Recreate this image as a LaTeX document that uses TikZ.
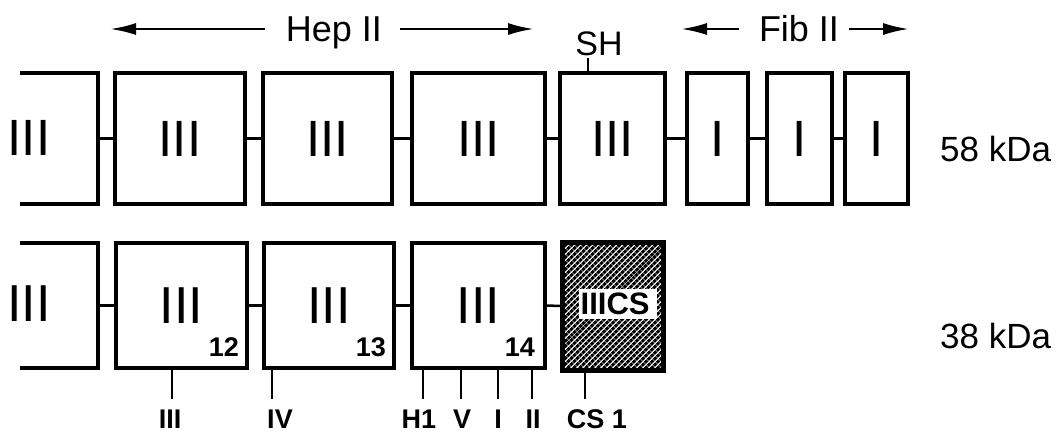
\documentclass[tikz,border=0pt]{standalone}
\usepackage{fontspec}
\setmainfont{Liberation Sans}
\usetikzlibrary{arrows.meta,patterns.meta}
\begin{document}
\begin{tikzpicture}[x=1pt,y=-1pt,
  box/.style={draw,line width=4pt,inner sep=0pt,minimum height=131pt,font=\fontsize{51}{51}\selectfont},
  bbox/.style={draw,line width=4pt,inner sep=0pt,minimum height=125pt,font=\fontsize{52}{52}\selectfont},
  conn/.style={line width=2.5pt},
  tickline/.style={line width=2.5pt},
  arr/.style={line width=2.5pt,-{Latex[length=26pt,width=12pt]}},
  num/.style={font=\bfseries\fontsize{27}{27}\selectfont,anchor=base east,inner sep=0pt},
  lab/.style={font=\bfseries\fontsize{27}{27}\selectfont,anchor=base,inner sep=0pt},
  big/.style={font=\fontsize{36}{36}\selectfont,anchor=base,inner sep=0pt},
  kda/.style={font=\fontsize{35}{35}\selectfont,anchor=base west,inner sep=0pt},
]
\fill[white] (0,0) rectangle (1057,432);
\useasboundingbox (0,0) rectangle (1057,432);

% partial boxes on the left
\begin{scope}
\clip (20,0) rectangle (1057,432);
\node[box,minimum width=131pt] (p1) at (32.5,138.5) {};
\node[bbox,minimum width=131pt] (q1) at (32.5,305.5) {};
\end{scope}
\node[inner sep=0pt,font=\fontsize{51}{51}\selectfont] (p1l) at (29,138) {III};
\node[inner sep=0pt,font=\fontsize{52}{52}\selectfont] (q1l) at (29,304) {III};

% top row (58 kDa)
\node[box,minimum width=130pt] (b1) at (180,138.5) {III};
\node[box,minimum width=129pt] (b2) at (327.5,138.5) {III};
\node[box,minimum width=133pt] (b3) at (478.5,138.5) {III};
\node[box,minimum width=105pt] (sh) at (612.5,138.5) {III};
\node[box,minimum width=61pt] (f1) at (717.5,138.5) {I};
\node[box,minimum width=65pt] (f2) at (799.5,138.5) {I};
\node[box,minimum width=63pt] (f3) at (876.5,138.5) {I};

\draw[conn] (p1.east) -- (b1.west);
\draw[conn] (b1.east) -- (b2.west);
\draw[conn] (b2.east) -- (b3.west);
\draw[conn] (b3.east) -- (sh.west);
\draw[conn] (sh.east) -- (f1.west);
\draw[conn] (f1.east) -- (f2.west);
\draw[conn] (f2.east) -- (f3.west);

% SH
\node[font=\fontsize{34}{34}\selectfont,anchor=base,inner sep=0pt] (shl) at (599,55) {SH};
\coordinate (shtick) at (588,58);
\draw[tickline] (shtick) -- (shtick |- sh.north);

% Hep II / Fib II
\node[big] (hep) at (334,41) {Hep II};
\coordinate (hepl) at (110,29);
\coordinate (hepls) at (265,29);
\coordinate (hepr) at (534,29);
\coordinate (heprs) at (400,29);
\draw[arr] (hepls) -- (hepl);
\draw[arr] (heprs) -- (hepr);

\node[big] (fib) at (799,41) {Fib II};
\coordinate (fibl) at (681,29);
\coordinate (fibls) at (739,29);
\coordinate (fibr) at (909,29);
\coordinate (fibrs) at (849,29);
\draw[arr] (fibls) -- (fibl);
\draw[arr] (fibrs) -- (fibr);

\node[kda] (k58) at (940,161) {58 kDa};

% bottom row (38 kDa)
\node[bbox,minimum width=131pt] (c12) at (181.5,305.5) {III};
\node[bbox,minimum width=130pt] (c13) at (329,305.5) {III};
\node[bbox,minimum width=133pt] (c14) at (478.5,305.5) {III};
\node[draw,line width=5pt,minimum width=101pt,minimum height=128pt,inner sep=0pt,
      pattern={Lines[angle=45,distance=4pt,line width=3.2pt]},pattern color=black] (cs) at (612.5,306) {};
\begin{scope}
\clip (565,245) rectangle (660,367);
\node[anchor=west,fill=white,inner xsep=1.5pt,inner ysep=4pt,font=\bfseries\fontsize{31}{31}\selectfont] (csl) at (579,304) {IIICS\hspace*{6pt}};
\end{scope}

\node[num] (n12) at ([xshift=-10pt,yshift=14pt]c12.south east) {12};
\node[num] (n13) at ([xshift=-10pt,yshift=14pt]c13.south east) {13};
\node[num] (n14) at ([xshift=-12pt,yshift=14pt]c14.south east) {14};

\draw[conn] (q1.east) -- (c12.west);
\draw[conn] (c12.east) -- (c13.west);
\draw[conn] (c13.east) -- (c14.west);
\draw[conn] (c14.east) -- (cs.west);

% binding sites below
\node[lab] (l1) at (170,428) {III};
\node[lab] (l2) at (280,428) {IV};
\node[lab] (l3) at (419,428) {H1};
\node[lab] (l4) at (462,428) {V};
\node[lab] (l5) at (498,428) {I};
\node[lab] (l6) at (533,428) {II};
\node[lab] (l7) at (597,428) {CS 1};

\coordinate (t1) at (172,399);
\coordinate (t2) at (272,399);
\coordinate (t3) at (423,399);
\coordinate (t4) at (461,399);
\coordinate (t5) at (498,399);
\coordinate (t6) at (532,399);
\coordinate (t7) at (585,399);
\draw[tickline] (t1 |- c12.south) -- (t1);
\draw[tickline] (t2 |- c13.south) -- (t2);
\draw[tickline] (t3 |- c14.south) -- (t3);
\draw[tickline] (t4 |- c14.south) -- (t4);
\draw[tickline] (t5 |- c14.south) -- (t5);
\draw[tickline] (t6 |- c14.south) -- (t6);
\draw[tickline] (t7 |- cs.south) -- (t7);

\node[kda] (k38) at (940,348) {38 kDa};
\end{tikzpicture}
\end{document}
